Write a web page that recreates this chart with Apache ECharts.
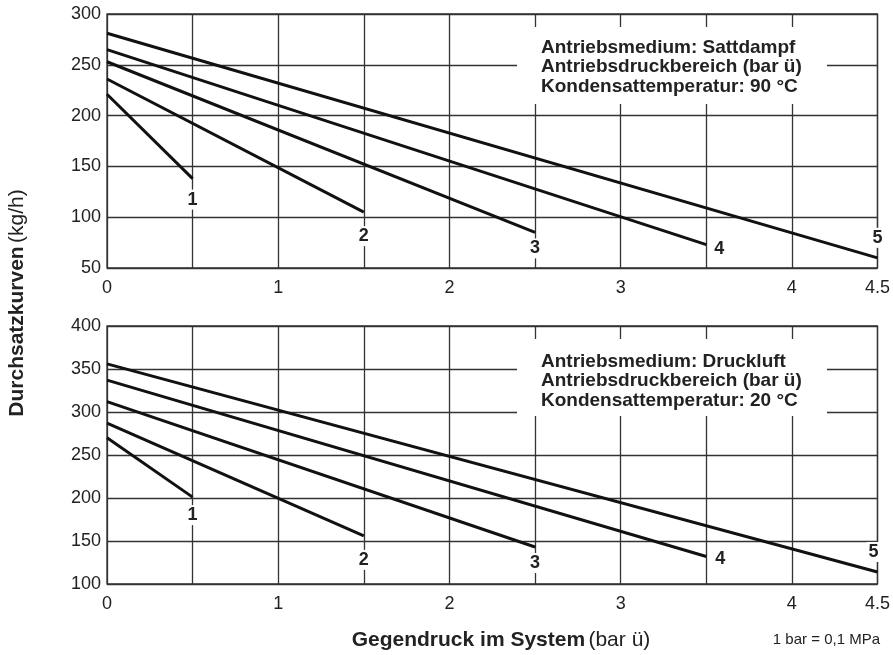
<!DOCTYPE html>
<html>
<head>
<meta charset="utf-8">
<script src="https://cdn.jsdelivr.net/npm/echarts@6/dist/echarts.min.js"></script>
<style>html,body{margin:0;padding:0;background:#fff}#c{width:893px;height:655px}</style>
</head>
<body>
<div id="c"></div>
<script>
// Data
var curveNames = ['1', '2', '3', '4', '5'];
var curveEndX = [0.5, 1.5, 2.5, 3.5, 4.5];
var steamStart = [221, 236, 253, 265, 281];
var steamEnd = [138, 105, 85, 73, 60];
var airStart = [270, 287, 312, 337, 356];
var airEnd = [201, 156, 143, 132, 114];
var xTickLabels = ['0', '1', '2', '3', '4', '4.5'];
var steamText = ['Antriebsmedium: Sattdampf', 'Antriebsdruckbereich (bar ü)', 'Kondensattemperatur: 90 °C'];
var airText = ['Antriebsmedium: Druckluft', 'Antriebsdruckbereich (bar ü)', 'Kondensattemperatur: 20 °C'];

var FONT = '"Liberation Sans", Arial, Helvetica, sans-serif';
var GRIDC = '#333';
var labelOffsets = [[0, 21], [0, 24], [0, 16], [13, 4], [0, -20]];
var labelOffsetsAir = [[0, 18], [0, 24], [0, 16], [14, 3], [-4, -20]];

function makeSeries(starts, ends, gi, offs) {
  return curveNames.map(function (n, i) {
    return {
      type: 'line', xAxisIndex: gi, yAxisIndex: gi,
      symbol: 'circle', symbolSize: 0, showSymbol: true,
      lineStyle: {color: '#111', width: 3},
      itemStyle: {color: '#111'},
      silent: true, animation: false, z: 5,
      data: [
        [0, starts[i]],
        {value: [curveEndX[i], ends[i]], label: {
          show: true, formatter: n, position: 'inside', offset: offs[i],
          fontFamily: FONT, fontWeight: 'bold', fontSize: 18, color: '#222',
          backgroundColor: '#fff', padding: [2, 2, 0, 2]
        }}
      ]
    };
  });
}

function xAxisCfg(gi) {
  return {
    type: 'value', gridIndex: gi, min: 0, max: 4.5, interval: 0.5,
    axisLine: {show: false}, axisTick: {show: false},
    splitLine: {show: true, lineStyle: {color: GRIDC, width: 1.3}},
    axisLabel: {
      fontFamily: FONT, fontSize: 18, color: '#222', margin: 11,
      formatter: function (v) {
        var s = String(v);
        return xTickLabels.indexOf(s) >= 0 ? s : '';
      }
    }
  };
}
function yAxisCfg(gi, mn, mx) {
  return {
    type: 'value', gridIndex: gi, min: mn, max: mx, interval: 50,
    axisLine: {show: false}, axisTick: {show: false},
    splitLine: {show: true, lineStyle: {color: GRIDC, width: 1.3}},
    axisLabel: {fontFamily: FONT, fontSize: 18, color: '#222', margin: 6}
  };
}

function annot(lines, x0, y0, x1, y1, tx, ty) {
  return {
    type: 'group',
    children: [
      {type: 'rect', z: 100, shape: {x: x0, y: y0, width: x1 - x0, height: y1 - y0}, style: {fill: '#fff'}},
      {type: 'text', z: 101, x: tx, y: ty, style: {
        text: lines.join('\n'), font: 'bold 19px ' + FONT, fill: '#222', lineHeight: 19.5,
        verticalAlign: 'top'
      }}
    ]
  };
}

var chart = echarts.init(document.getElementById('c'), null, {renderer: 'canvas'});
chart.setOption({
  backgroundColor: '#fff',
  animation: false,
  grid: [
    {left: 107, right: 13, top: 14, height: 254, show: true, borderColor: GRIDC, borderWidth: 1.3, backgroundColor: 'transparent'},
    {left: 107, right: 13, top: 326, height: 258, show: true, borderColor: GRIDC, borderWidth: 1.3, backgroundColor: 'transparent'}
  ],
  xAxis: [xAxisCfg(0), xAxisCfg(1)],
  yAxis: [yAxisCfg(0, 50, 300), yAxisCfg(1, 100, 400)],
  series: makeSeries(steamStart, steamEnd, 0, labelOffsets).concat(makeSeries(airStart, airEnd, 1, labelOffsetsAir)),
  graphic: [
    annot(steamText, 517, 27, 827, 104, 541, 38),
    annot(airText, 517, 339, 827, 416, 541, 352),
    {type: 'text', x: 17, y: 303, rotation: Math.PI / 2, z: 100, style: {
      text: '{b|Durchsatzkurven} {n|(kg/h)}', align: 'center', verticalAlign: 'middle',
      rich: {b: {font: 'bold 21px ' + FONT, fill: '#222'}, n: {font: '21px ' + FONT, fill: '#222'}}
    }},
    {type: 'text', x: 501, y: 640, z: 100, style: {
      text: '{b|Gegendruck im System} {n|(bar ü)}', align: 'center', verticalAlign: 'middle',
      rich: {b: {font: 'bold 21px ' + FONT, fill: '#222'}, n: {font: '21px ' + FONT, fill: '#222'}}
    }},
    {type: 'text', x: 880, y: 640, z: 100, style: {
      text: '1 bar = 0,1 MPa', align: 'right', verticalAlign: 'middle', font: '15px ' + FONT, fill: '#222'
    }}
  ]
});
</script>
</body>
</html>
